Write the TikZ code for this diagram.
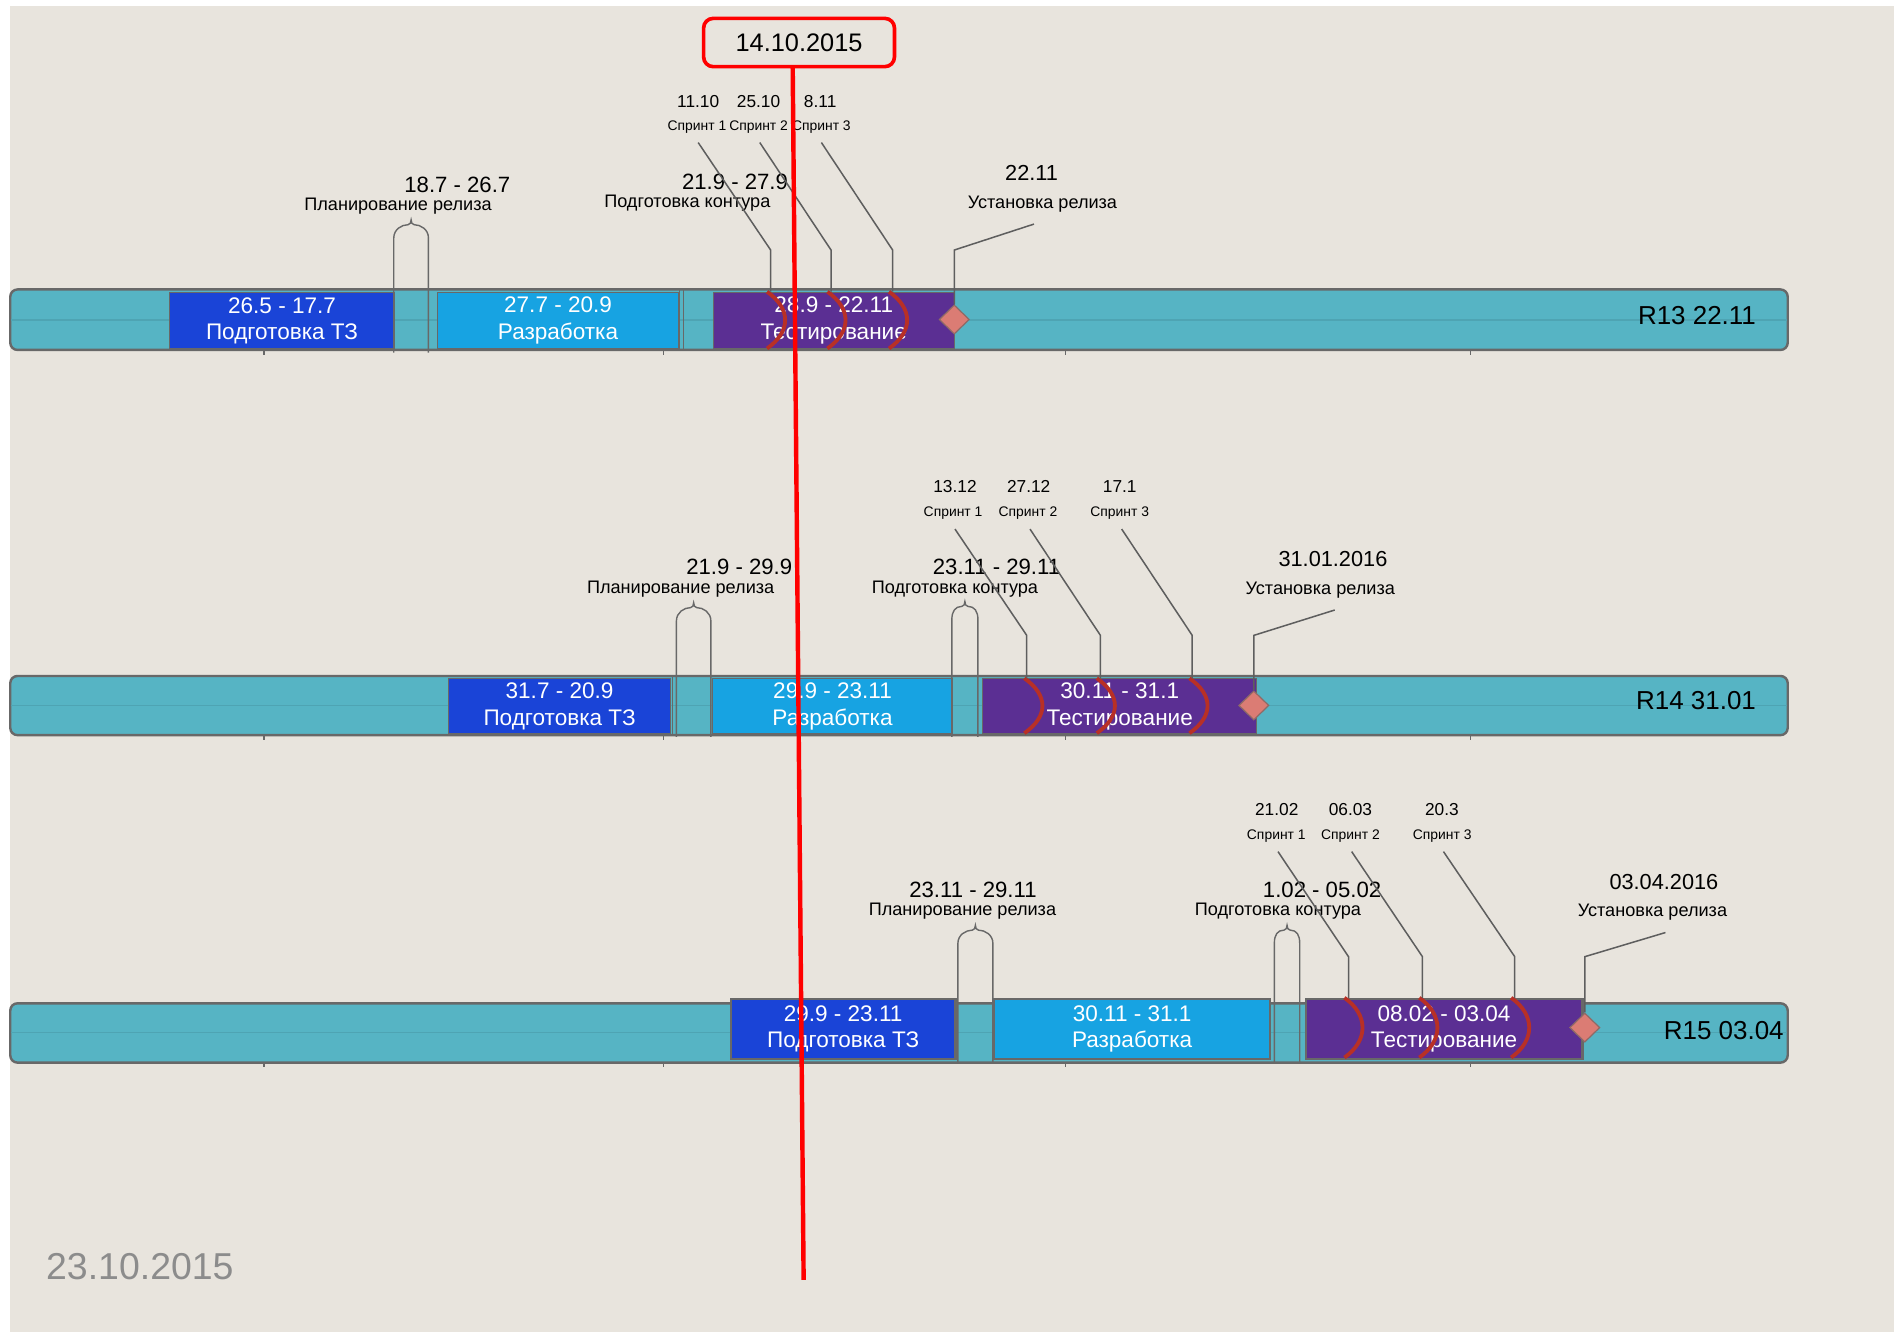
\documentclass[tikz,border=0pt]{standalone}
\usepackage{fontspec}
\setmainfont{Liberation Sans}
\usetikzlibrary{shapes.geometric}
\definecolor{bgbeige}{HTML}{E8E4DD}
\definecolor{barfill}{HTML}{56B4C4}
\definecolor{barline}{HTML}{4EA4B3}
\definecolor{barborder}{HTML}{686868}
\definecolor{tzblue}{HTML}{1A44D7}
\definecolor{devblue}{HTML}{17A3E2}
\definecolor{testpurple}{HTML}{5B2F93}
\definecolor{arcred}{HTML}{B83026}
\definecolor{msfill}{HTML}{DB7C74}
\definecolor{msborder}{HTML}{8E6A66}
\definecolor{leadergray}{HTML}{5E5E5E}
\definecolor{datagray}{HTML}{8C8C8C}
\tikzset{
  barbody/.style={draw=barborder, line width=1.2pt, fill=barfill, rounded corners=3.6pt},
  barmid/.style={draw=barline, line width=0.7pt},
  tickmark/.style={draw=barborder, line width=0.6pt},
  taskbase/.style={rectangle, inner sep=0pt, draw=barborder, line width=0.6pt},
  tasktz/.style={taskbase, fill=tzblue},
  taskdev/.style={taskbase, fill=devblue},
  tasktest/.style={taskbase, fill=testpurple},
  thickborder/.style={line width=1.2pt},
  tasktext/.style={text=white, font=\fontsize{11.2}{13.2}\selectfont, align=center, inner sep=0pt},
  sepline/.style={draw=barborder, line width=0.6pt},
  bracel/.style={draw=barborder, line width=0.7pt},
  leader/.style={draw=leadergray, line width=0.75pt},
  sprarc/.style={draw=arcred, line width=1.9pt},
  milestone/.style={diamond, draw=msborder, fill=msfill, line width=0.6pt, minimum width=15pt, minimum height=14.5pt, inner sep=0pt},
  lbldate/.style={font=\fontsize{11}{13}\selectfont, inner sep=0pt},
  lblname/.style={font=\fontsize{9}{11}\selectfont, inner sep=0pt},
  sprdate/.style={font=\fontsize{8.6}{10}\selectfont, inner sep=0pt},
  sprname/.style={font=\fontsize{6.9}{8}\selectfont, inner sep=0pt},
  msdate/.style={font=\fontsize{10.8}{12}\selectfont, inner sep=0pt},
  relname/.style={font=\fontsize{12.9}{15}\selectfont, inner sep=0pt, anchor=east},
}
\newcommand\mytask[7]{%
  \node[#2, minimum width={(#4-#3)*0.6pt}, minimum height={(#6-#5)*0.6pt}, anchor=north west] (#1) at (#3,#5) {};
  \node[tasktext] (#1-t) at (#1.center) {#7};
}
\newcommand\sprintarc[4]{%
  \coordinate (#1) at (#2,#3);
  \draw[sprarc] (#1) .. controls ({#2+20},{#3+14}) and ({#2+20},{#4-14}) .. (#2,#4);
}
\newcommand\relbrace[4]{%
  \pgfmathsetmacro\bracemid{(#1+#2)/2}%
  \draw[bracel] (#1,#4) -- (#1,#3)
    .. controls (#1,{#3-7}) and ({\bracemid-8},{#3-11}) .. ({\bracemid-2.5},{#3-11})
    .. controls ({\bracemid-0.8},{#3-11}) and (\bracemid,{#3-13}) .. (\bracemid,{#3-15})
    .. controls (\bracemid,{#3-13}) and ({\bracemid+0.8},{#3-11}) .. ({\bracemid+2.5},{#3-11})
    .. controls ({\bracemid+8},{#3-11}) and (#2,{#3-7}) .. (#2,#3) -- (#2,#4);
}
\newcommand\mybar[4]{% name, ytop, ybot, ymid
  \draw[barbody] (8.5,#2) rectangle (1480,#3);
  \draw[barmid] (9.5,#4) -- (1479,#4);
  \foreach \tx in {218.6,549,882,1217.5} { \draw[tickmark] (\tx,#3) -- (\tx,{#3+4}); }
}
\begin{document}
\begin{tikzpicture}[x=0.6pt, y=-0.6pt]
\useasboundingbox (0,0) rectangle (1568,1102.6);
\fill[white] (0,0) rectangle (1568,1102.6);
\fill[bgbeige] (8.3,5) rectangle (1568,1102.6);

% ================= Row 1 =================
\mybar{r1}{239.6}{289.7}{265}
\mytask{r1tz}{tasktz}{140}{326}{241.5}{288.5}{26.5 - 17.7\\Подготовка ТЗ}
\mytask{r1dev}{taskdev}{362}{561}{241.5}{288.5}{27.7 - 20.9\\Разработка}
\mytask{r1test}{tasktest}{590}{789.5}{241.5}{288.5}{28.9 - 22.11\\Тестирование}
\draw[sepline] (562.5,240) -- (562.5,289.5);
\draw[sepline] (566,240) -- (566,289.5);
\relbrace{326}{354.7}{197}{292}
\node[lbldate] (r1pland) at (378.6,153) {18.7 - 26.7};
\node[lblname] (r1plann) at (329.5,170.5) {Планирование релиза};
\node[lbldate] (r1kontd) at (608.5,150.6) {21.9 - 27.9};
\node[lblname] (r1kontn) at (569,168) {Подготовка контура};
% sprints
\node[sprdate] (r1s1d) at (578,84) {11.10};
\node[sprdate] (r1s2d) at (628,84) {25.10};
\node[sprdate] (r1s3d) at (679,84) {8.11};
\node[sprname] (r1s1n) at (577,105) {Спринт 1};
\node[sprname] (r1s2n) at (628,105) {Спринт 2};
\node[sprname] (r1s3n) at (680,105) {Спринт 3};
\sprintarc{r1a1}{635}{241.5}{288.5}
\sprintarc{r1a2}{685}{241.5}{288.5}
\sprintarc{r1a3}{736}{241.5}{288.5}
\coordinate (r1s1a) at (578,118); \coordinate (r1s1b) at (638,207); \coordinate (r1s1c) at (638,241.5);
\coordinate (r1s2a) at (629,118); \coordinate (r1s2b) at (688,207); \coordinate (r1s2c) at (688,241.5);
\coordinate (r1s3a) at (680,118); \coordinate (r1s3b) at (739,207); \coordinate (r1s3c) at (739,241.5);
\draw[leader] (r1s1a) -- (r1s1b) -- (r1s1c);
\draw[leader] (r1s2a) -- (r1s2b) -- (r1s2c);
\draw[leader] (r1s3a) -- (r1s3b) -- (r1s3c);
% milestone
\node[milestone] (r1ms) at (790,264.5) {};
\coordinate (r1msb) at (790,207); \coordinate (r1msc) at (856,185.5);
\draw[leader] (r1ms.north) -- (r1msb) -- (r1msc);
\node[msdate] (r1msd) at (854,143) {22.11};
\node[lblname] (r1msn) at (863,169) {Установка релиза};
\node[relname] (r1name) at (1454,261) {R13 22.11};

% ================= Row 2 =================
\mybar{r2}{559.6}{608.6}{584}
\mytask{r2tz}{tasktz}{371}{554.5}{561.5}{607}{31.7 - 20.9\\Подготовка ТЗ}
\mytask{r2dev}{taskdev}{589.5}{788}{561.5}{607}{29.9 - 23.11\\Разработка}
\mytask{r2test}{tasktest}{813}{1040}{561.5}{607}{30.11 - 31.1\\Тестирование}
\draw[sepline] (557,560) -- (557,608.5);
\relbrace{560}{588.5}{514}{610}
\relbrace{788}{809.6}{513}{610}
\node[lbldate] (r2pland) at (612,469.6) {21.9 - 29.9};
\node[lblname] (r2plann) at (563.5,487.8) {Планирование релиза};
\node[lbldate] (r2kontd) at (825,469.6) {23.11 - 29.11};
\node[lblname] (r2kontn) at (790.6,487.8) {Подготовка контура};
\node[sprdate] (r2s1d) at (790.6,403) {13.12};
\node[sprdate] (r2s2d) at (851.6,403) {27.12};
\node[sprdate] (r2s3d) at (927,403) {17.1};
\node[sprname] (r2s1n) at (789,425) {Спринт 1};
\node[sprname] (r2s2n) at (851,425) {Спринт 2};
\node[sprname] (r2s3n) at (927,425) {Спринт 3};
\sprintarc{r2a1}{848}{561.5}{607}
\sprintarc{r2a2}{908}{561.5}{607}
\sprintarc{r2a3}{984.7}{561.5}{607}
\coordinate (r2s1a) at (790.6,438); \coordinate (r2s1b) at (850,526); \coordinate (r2s1c) at (850,561.5);
\coordinate (r2s2a) at (852.7,438); \coordinate (r2s2b) at (911,526); \coordinate (r2s2c) at (911,561.5);
\coordinate (r2s3a) at (928.6,438); \coordinate (r2s3b) at (987,526); \coordinate (r2s3c) at (987,561.5);
\draw[leader] (r2s1a) -- (r2s1b) -- (r2s1c);
\draw[leader] (r2s2a) -- (r2s2b) -- (r2s2c);
\draw[leader] (r2s3a) -- (r2s3b) -- (r2s3c);
\node[milestone] (r2ms) at (1038,584) {};
\coordinate (r2msb) at (1038,526); \coordinate (r2msc) at (1105,505);
\draw[leader] (r2ms.north) -- (r2msb) -- (r2msc);
\node[msdate] (r2msd) at (1103.5,463) {31.01.2016};
\node[lblname] (r2msn) at (1093,488.4) {Установка релиза};
\node[relname] (r2name) at (1454,580) {R14 31.01};

% ================= Row 3 =================
\mybar{r3}{830.6}{879.7}{855}
\mytask{r3tz}{tasktz,thickborder}{604}{790}{826}{875.5}{29.9 - 23.11\\Подготовка ТЗ}
\mytask{r3dev}{taskdev,thickborder}{822}{1050.5}{826}{875.5}{30.11 - 31.1\\Разработка}
\mytask{r3test}{tasktest,thickborder}{1080}{1309}{826}{875.5}{08.02 - 03.04\\Тестирование}
\relbrace{793}{822}{781}{879}
\relbrace{1055}{1076}{781}{879}
\node[lbldate] (r3pland) at (805.5,737) {23.11 - 29.11};
\node[lblname] (r3plann) at (796.8,754.7) {Планирование релиза};
\node[lbldate] (r3kontd) at (1094.5,737) {1.02 - 05.02};
\node[lblname] (r3kontn) at (1058,754.7) {Подготовка контура};
\node[sprdate] (r3s1d) at (1057,670) {21.02};
\node[sprdate] (r3s2d) at (1118,670) {06.03};
\node[sprdate] (r3s3d) at (1193.7,670) {20.3};
\node[sprname] (r3s1n) at (1056.6,692) {Спринт 1};
\node[sprname] (r3s2n) at (1118,692) {Спринт 2};
\node[sprname] (r3s3n) at (1194,692) {Спринт 3};
\sprintarc{r3a1}{1113}{826}{875.5}
\sprintarc{r3a2}{1175}{826}{875.5}
\sprintarc{r3a3}{1251}{826}{875.5}
\coordinate (r3s1a) at (1058,705); \coordinate (r3s1b) at (1116.4,792); \coordinate (r3s1c) at (1116.4,826);
\coordinate (r3s2a) at (1119,705); \coordinate (r3s2b) at (1177.6,792); \coordinate (r3s2c) at (1177.6,826);
\coordinate (r3s3a) at (1195,705); \coordinate (r3s3b) at (1254,792); \coordinate (r3s3c) at (1254,826);
\draw[leader] (r3s1a) -- (r3s1b) -- (r3s1c);
\draw[leader] (r3s2a) -- (r3s2b) -- (r3s2c);
\draw[leader] (r3s3a) -- (r3s3b) -- (r3s3c);
\node[milestone] (r3ms) at (1312,850.7) {};
\coordinate (r3msb) at (1312,792); \coordinate (r3msc) at (1378.8,772);
\draw[leader] (r3ms.north) -- (r3msb) -- (r3msc);
\node[msdate] (r3msd) at (1377.5,730) {03.04.2016};
\node[lblname] (r3msn) at (1368,755.5) {Установка релиза};
\node[relname] (r3name) at (1477,853) {R15 03.04};

% ================= bottom date =================
\node[font=\fontsize{18.6}{22}\selectfont, text=datagray, inner sep=0pt] (curdate) at (115.8,1048.6) {23.10.2015};

% ================= today line =================
\coordinate (redtop) at (656.2,50);
\coordinate (redbot) at (665.3,1059.6);
\draw[red, line width=2.2pt] (redtop) -- (redbot);
\node[draw=red, line width=1.8pt, rounded corners=4.8pt, fill=bgbeige, minimum width=94.8pt, minimum height=24pt, inner sep=0pt, font=\fontsize{12.6}{15}\selectfont] (today) at (661.5,35.2) {14.10.2015};
\end{tikzpicture}
\end{document}
